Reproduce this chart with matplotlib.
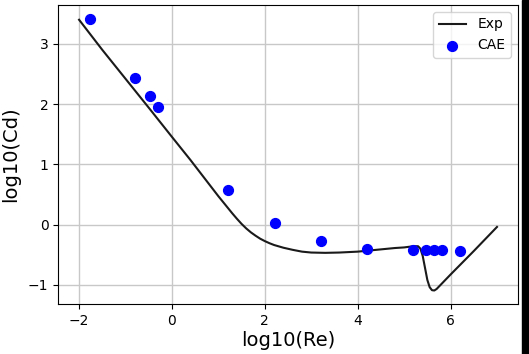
import numpy as np
import matplotlib.pyplot as plt
from matplotlib.patches import Rectangle

exp_x = [-2.0, -1.5, -1.0, -0.5, 0.0, 0.4, 0.7, 1.0, 1.1, 1.2, 1.3, 1.4, 1.5,
         1.6, 1.7, 1.8, 1.9, 2.0, 2.1, 2.2, 2.4, 2.6, 2.8, 3.0, 3.3, 3.6, 4.0,
         4.4, 4.8, 5.0, 5.2, 5.3, 5.35, 5.4, 5.45, 5.5, 5.55, 5.6, 5.65, 5.7,
         6.0, 6.5, 7.0]
exp_y = [3.40, 2.90, 2.42, 1.94, 1.455, 1.07, 0.77, 0.47, 0.375, 0.28, 0.185,
         0.095, 0.01, -0.065, -0.13, -0.185, -0.235, -0.275, -0.31, -0.34,
         -0.385, -0.42, -0.45, -0.465, -0.47, -0.465, -0.45, -0.42, -0.39,
         -0.38, -0.36, -0.36, -0.40, -0.52, -0.72, -0.92, -1.04, -1.09, -1.095,
         -1.07, -0.83, -0.44, -0.04]

# CAE results
cae_x = [-1.77, -0.80, -0.48, -0.30, 1.21, 2.21, 3.22, 4.19, 5.20, 5.48, 5.65, 5.81, 6.20]
cae_y = [3.42, 2.44, 2.14, 1.95, 0.58, 0.03, -0.28, -0.41, -0.43, -0.43, -0.43, -0.43, -0.44]

fig = plt.figure(figsize=(5.29, 3.54), dpi=100)
ax = fig.add_axes([0.110, 0.141, 0.869, 0.845])

ax.plot(exp_x, exp_y, color='#1a1a1a', lw=1.5, label='Exp')
ax.scatter(cae_x, cae_y, color='blue', s=50, label='CAE', zorder=3)

ax.set_xlabel('log10(Re)', fontsize=14, labelpad=2)
ax.set_ylabel('log10(Cd)', fontsize=14, labelpad=6)
ax.tick_params(labelsize=10)
ax.set_xticks([-2, 0, 2, 4, 6])
ax.set_yticks([-1, 0, 1, 2, 3])
ax.grid(True, color='#c8c8c8', lw=1)
ax.set_axisbelow(True)
ax.legend(loc='upper right', fontsize=10)

# dark strip on the right edge of the screenshot
fig.patches.append(Rectangle((0.987, 0), 0.013, 1, transform=fig.transFigure,
                             color='black', zorder=-1))

fig.savefig('out.png', dpi=100)
